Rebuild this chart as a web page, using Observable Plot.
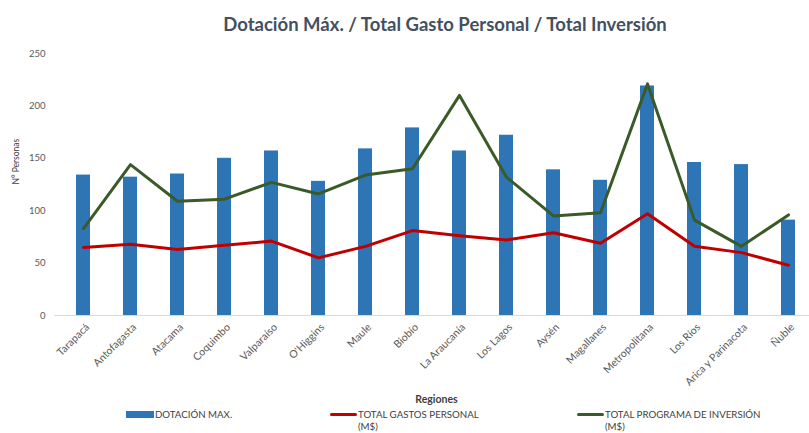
<!DOCTYPE html>
<html>
<head>
<meta charset="utf-8">
<script src="https://cdn.jsdelivr.net/npm/d3@7"></script>
<script src="https://cdn.jsdelivr.net/npm/@observablehq/plot@0.6"></script>
<style>
  body { margin: 0; background: #fff; font-family: Lato, "Open Sans", sans-serif; }
  #wrap { position: relative; width: 809px; height: 433px; overflow: hidden; }
  #title { position: absolute; left: 0; width: 890px; top: 13px; text-align: center; font-weight: bold; font-size: 18.5px; color: #44505f; }
  #chart { position: absolute; left: 0; top: 40px; }
  .leg { position: absolute; font-size: 9.7px; color: #404040; line-height: 12px; }
  .sw { position: absolute; }
</style>
</head>
<body>
<div id="wrap">
  <div id="title">Dotación Máx. / Total Gasto Personal / Total Inversión</div>
  <div id="chart"></div>
  <div class="sw" style="left:126px; top:411px; width:28px; height:7px; background:#2E75B6"></div>
  <div class="leg" style="left:155px; top:408px;">DOTACIÓN MAX.</div>
  <div class="sw" style="left:330px; top:413px; width:27px; height:3px; background:#C00000; border-radius:2px"></div>
  <div class="leg" style="left:358px; top:408px;">TOTAL GASTOS PERSONAL<br>(M$)</div>
  <div class="sw" style="left:577px; top:413px; width:27px; height:3px; background:#3A5A28; border-radius:2px"></div>
  <div class="leg" style="left:605px; top:408px;">TOTAL PROGRAMA DE INVERSIÓN<br>(M$)</div>
</div>
<script>
const regions = ["Tarapacá","Antofagasta","Atacama","Coquimbo","Valparaíso","O'Higgins","Maule","Biobío","La Araucanía","Los Lagos","Aysén","Magallanes","Metropolitana","Los Ríos","Arica y Parinacota","Ñuble"];
const dotacion = [134,132,135,150,157,128,159,179,157,172,139,129,219,146,144,91];
const gastos = [65,68,63,67,71,55,66,81,76,72,79,69,97,66,60,48];
const inversion = [83,144,109,111,127,116,134,140,210,132,95,98,221,91,66,96];
const yTicks = [0,50,100,150,200,250];

const table = regions.map((r, i) => ({region: r, dot: dotacion[i], gas: gastos[i], inv: inversion[i]}));

const chart = Plot.plot({
  width: 809,
  height: 365,
  marginTop: 13,
  marginBottom: 90,
  marginLeft: 54,
  marginRight: -9,
  style: {fontFamily: "Lato, sans-serif", fontSize: "9px", color: "#595959", background: "transparent"},
  x: {type: "band", domain: regions, paddingInner: 0.7, paddingOuter: 0.35, label: null},
  y: {domain: [0, 250], label: null},
  marks: [
    Plot.ruleY([0], {stroke: "#d9d9d9", strokeWidth: 1}),
    Plot.barY(table, {x: "region", y: "dot", fill: "#2E75B6"}),
    Plot.lineY(table, {x: "region", y: "gas", stroke: "#C00000", strokeWidth: 3}),
    Plot.lineY(table, {x: "region", y: "inv", stroke: "#3A5A28", strokeWidth: 3}),
    Plot.axisY({ticks: yTicks, tickSize: 0, tickPadding: 9, label: null, fontSize: 9.5}),
    Plot.axisX({tickSize: 0, tickRotate: -45, tickPadding: 10, dx: 4, label: null, fontSize: 10.5}),
    Plot.text(["N° Personas"], {frameAnchor: "left", rotate: -90, dx: -38, fontSize: 8.5, fill: "#404040"}),
    Plot.text(["Regiones"], {frameAnchor: "bottom", dx: 0, dy: 87, fontSize: 10.5, fontWeight: "bold", fill: "#404040"})
  ]
});
document.getElementById("chart").appendChild(chart);
</script>
</body>
</html>
